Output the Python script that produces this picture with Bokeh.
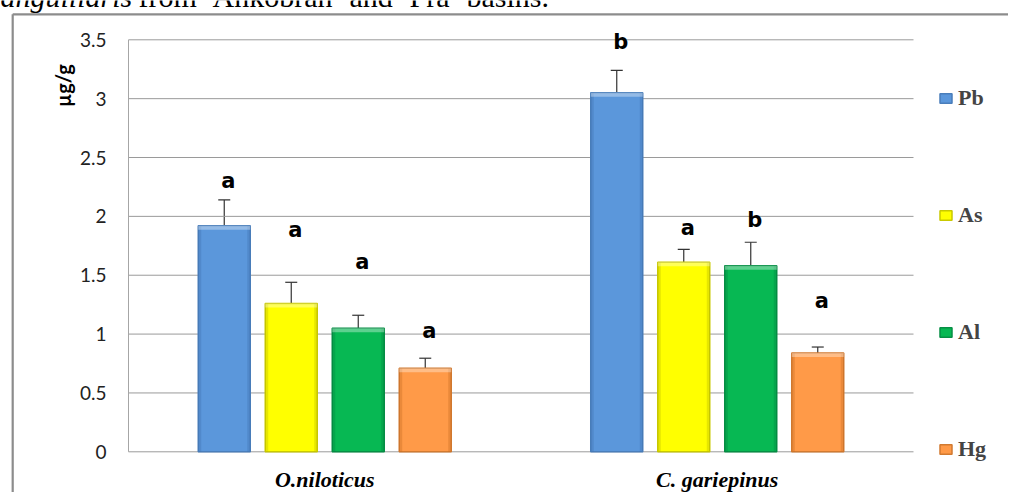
import math
from bokeh.plotting import figure
from bokeh.models import Range1d, Whisker, TeeHead, Legend, LegendItem, ColumnDataSource
from bokeh.core.properties import value
from bokeh.embed import file_html
from bokeh.resources import INLINE

# ---- data ----
species = ["O.niloticus", "C. gariepinus"]
metals = ["Pb", "As", "Al", "Hg"]
pb_mean = [1.92, 3.05]
as_mean = [1.26, 1.61]
al_mean = [1.05, 1.58]
hg_mean = [0.71, 0.84]
pb_err = [0.22, 0.19]
as_err = [0.18, 0.11]
al_err = [0.11, 0.20]
hg_err = [0.085, 0.05]
pb_letter = ["a", "b"]
as_letter = ["a", "a"]
al_letter = ["a", "b"]
hg_letter = ["a", "a"]
pb_letter_y = [2.30, 3.48]
as_letter_y = [1.88, 1.90]
al_letter_y = [1.61, 1.965]
hg_letter_y = [1.025, 1.285]
y_ticks = [0, 0.5, 1, 1.5, 2, 2.5, 3, 3.5]
y_tick_labels = ["0", "0.5", "1", "1.5", "2", "2.5", "3", "3.5"]
y_title = "µg/g"
caption_italic = "anguillaris"
caption_words = ["from", "Ankobran", "and", "Pra", "basins."]

means = [pb_mean, as_mean, al_mean, hg_mean]
errs = [pb_err, as_err, al_err, hg_err]
letters = [pb_letter, as_letter, al_letter, hg_letter]
letters_y = [pb_letter_y, as_letter_y, al_letter_y, hg_letter_y]
fills = ["#5B97DB", "#FFFF00", "#07B853", "#FF9A48"]
lines = ["#4A7EBB", "#C9C900", "#068F45", "#D27A30"]
darks = ["#3F6FAE", "#B8B800", "#04803E", "#C46A22"]

# ---- layout (pixels of the canvas) ----
W, H = 1008, 492
PLOT_L, PLOT_R = 128.0, 913.0      # x = 0 .. 2
PLOT_B, PLOT_T = 451.3, 39.3       # y = 0 .. 3.5
ux = 2.0 / (PLOT_R - PLOT_L)
uy = 3.5 / (PLOT_B - PLOT_T)


def px2x(sx):
    return (sx - PLOT_L) * ux


def px2y(sy):
    return (PLOT_B - sy) * uy


p = figure(width=W, height=H,
           x_range=Range1d(px2x(0), px2x(W)), y_range=Range1d(px2y(H), px2y(0)),
           output_backend="svg", toolbar_location=None,
           x_axis_location=None, y_axis_location=None,
           min_border_left=0, min_border_right=0, min_border_top=0, min_border_bottom=0)
p.outline_line_color = None
p.xgrid.visible = False
p.ygrid.visible = False
p.background_fill_color = "white"
p.border_fill_color = "white"

# outer border (document frame)
p.segment(x0=[px2x(12.2), px2x(12.2)], y0=[px2y(13.8), px2y(13.8)],
          x1=[px2x(12.2), px2x(W + 10)], y1=[px2y(H + 10), px2y(13.8)],
          line_color="#8c8c8c", line_width=2.2)

# gridlines and axis line
p.segment(x0=[0] * len(y_ticks), x1=[2] * len(y_ticks), y0=y_ticks, y1=y_ticks,
          line_color="#9a9a9a", line_width=1)
p.segment(x0=[0], x1=[0], y0=[0], y1=[y_ticks[-1]], line_color="#a6a6a6", line_width=1)

# y tick labels
p.text(x=[0] * len(y_ticks), y=y_ticks, text=y_tick_labels, x_offset=-22,
       text_align="right", text_baseline="middle", text_font=value("Lato"),
       text_font_size="19px", text_color="#222222")

# species labels
p.text(x=[j + 0.5 for j in range(len(species))], y=[0] * len(species), text=species,
       y_offset=28, text_align="center", text_baseline="middle",
       text_font=value("Liberation Serif"), text_font_style="bold italic",
       text_font_size="22px", text_color="black")

# y title
p.text(x=[0], y=[px2y(85)], text=[y_title], x_offset=-66, angle=math.pi / 2,
       text_align="center", text_baseline="middle", text_font=value("Lato"),
       text_font_style="bold", text_font_size="20px", text_color="black")

# caption fragment (justified line of the surrounding document)
cap_mid = px2y(5.7 - 0.32 * 30)
p.text(x=[px2x(0)], y=[cap_mid], text=[caption_italic], text_align="left",
       text_baseline="middle", text_font=value("Liberation Serif"),
       text_font_style="italic", text_font_size="30px", text_color="black")
word_px = [138, 212, 349, 409, 466]
p.text(x=[px2x(v) for v in word_px], y=[cap_mid] * len(caption_words), text=caption_words,
       text_align="left", text_baseline="middle", text_font=value("Liberation Serif"),
       text_font_size="30px", text_color="black")

step = 0.1707
width = 0.1325
band = 3 * ux
cap_h = 4 * uy
renderers = []
for i, m in enumerate(metals):
    off = (i - 1.5) * step
    xs = [j + 0.5 + off for j in range(len(species))]
    src = ColumnDataSource(dict(x=xs, top=means[i],
                                upper=[a + b for a, b in zip(means[i], errs[i])],
                                lower=means[i], letter=letters[i], ly=letters_y[i],
                                xl=[v - width / 2 + band / 2 for v in xs],
                                xr=[v + width / 2 - band / 2 for v in xs],
                                capb=[v - cap_h for v in means[i]]))
    r = p.vbar(x="x", top="top", width=width, bottom=0, source=src,
               fill_color=fills[i], line_color=lines[i], line_width=1.5)
    renderers.append(r)
    # subtle bevel
    p.vbar(x="xl", top="top", width=band, bottom=0, source=src,
           fill_color=darks[i], fill_alpha=0.35, line_color=None)
    p.vbar(x="xr", top="top", width=band, bottom=0, source=src,
           fill_color=darks[i], fill_alpha=0.35, line_color=None)
    p.vbar(x="x", top="top", bottom="capb", width=width, source=src,
           fill_color="white", fill_alpha=0.35, line_color=None)
    w = Whisker(source=src, base="x", upper="upper", lower="lower", dimension="height",
                line_color="#333333", line_width=1.2,
                upper_head=TeeHead(size=12, line_color="#333333", line_width=1.2),
                lower_head=None)
    p.add_layout(w)
    p.text(x="x", y="ly", text="letter", source=src, text_align="center",
           text_baseline="middle", x_offset=4, text_font=value("DejaVu Sans"),
           text_font_style="bold", text_font_size="21px", text_color="black")

ITEM_H, STEP_PX, FIRST_CENTER = 30, 117, 97.7
n = len(metals)
leg_top = FIRST_CENTER - ITEM_H / 2
leg_h = n * ITEM_H + (n - 1) * (STEP_PX - ITEM_H)
legend = Legend(items=[LegendItem(label=m, renderers=[r]) for m, r in zip(metals, renderers)],
                location=(938, H - (leg_top + leg_h)), orientation="vertical",
                glyph_width=15, glyph_height=12, label_height=ITEM_H,
                spacing=STEP_PX - ITEM_H,
                padding=0, margin=0, border_line_color=None, background_fill_alpha=0,
                label_text_font="Liberation Serif", label_text_font_style="bold",
                label_text_font_size="22px", label_standoff=5)
p.add_layout(legend)

open("out.html", "w").write(file_html(p, INLINE))
